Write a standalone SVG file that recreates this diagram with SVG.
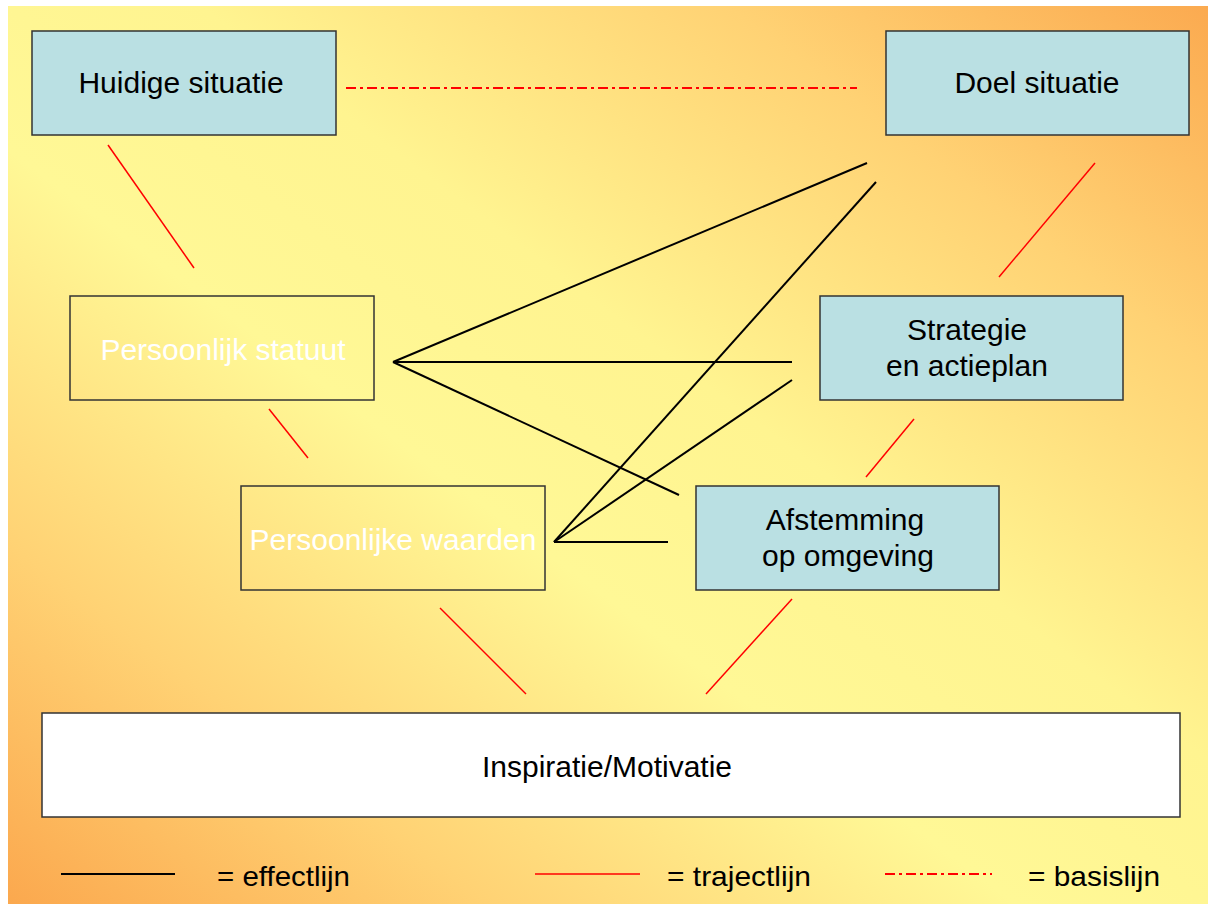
<svg xmlns="http://www.w3.org/2000/svg" width="1208" height="904" viewBox="0 0 1208 904">
  <defs>
    <linearGradient id="bg" x1="1" y1="0" x2="0" y2="1">
      <stop offset="0" stop-color="#FBAA50"/>
      <stop offset="0.2" stop-color="#FFD274"/>
      <stop offset="0.42" stop-color="#FFF490"/>
      <stop offset="0.58" stop-color="#FFF896"/>
      <stop offset="0.8" stop-color="#FFD274"/>
      <stop offset="1" stop-color="#FBA84E"/>
    </linearGradient>
    <style>
      .box { stroke: #333; stroke-width: 1.5; }
      .blue { fill: #BAE0E3; }
      .clear { fill: none; }
      .white { fill: #FFFFFF; }
      .lbl { font-family: "Liberation Sans", Arial, sans-serif; font-size: 30px; fill: #000; text-anchor: middle; }
      .lbl-w { fill: #FFFFFF; }
      .effect { stroke: #000; stroke-width: 2; fill: none; }
      .traject { stroke: #FF0000; stroke-width: 1.5; fill: none; }
      .basis { stroke: #FF0000; stroke-width: 2; fill: none; stroke-dasharray: 10 4 3 4; }
      .legend { font-family: "Liberation Sans", Arial, sans-serif; font-size: 28px; fill: #000; }
    </style>
  </defs>

  <rect x="0" y="0" width="1208" height="904" fill="#FFFFFF"/>
  <rect x="8" y="6" width="1200" height="898" fill="url(#bg)"/>

  <g id="connectors">
    <!-- basislijn -->
    <line class="basis" x1="346" y1="88" x2="857" y2="88"/>
    <!-- trajectlijnen -->
    <line class="traject" x1="108" y1="145" x2="194" y2="268"/>
    <line class="traject" x1="1095" y1="163" x2="999" y2="277"/>
    <line class="traject" x1="269" y1="409" x2="308" y2="458"/>
    <line class="traject" x1="914" y1="419" x2="866" y2="477"/>
    <line class="traject" x1="440" y1="608" x2="526" y2="694"/>
    <line class="traject" x1="792" y1="599" x2="706" y2="694"/>
    <!-- effectlijnen -->
    <line class="effect" x1="393" y1="362" x2="867" y2="163"/>
    <line class="effect" x1="393" y1="362" x2="792" y2="362"/>
    <line class="effect" x1="393" y1="362" x2="679" y2="495"/>
    <line class="effect" x1="554" y1="542" x2="876" y2="182"/>
    <line class="effect" x1="554" y1="542" x2="792" y2="380"/>
    <line class="effect" x1="554" y1="542" x2="668" y2="542"/>
  </g>

  <g id="huidige-situatie">
    <rect class="box blue" x="32" y="31" width="304" height="104"/>
    <text class="lbl" x="181" y="93">Huidige situatie</text>
  </g>
  <g id="doel-situatie">
    <rect class="box blue" x="886" y="31" width="303" height="104"/>
    <text class="lbl" x="1037" y="93">Doel situatie</text>
  </g>
  <g id="persoonlijk-statuut">
    <rect class="box clear" x="70" y="296" width="304" height="104"/>
    <text class="lbl lbl-w" x="223" y="360">Persoonlijk statuut</text>
  </g>
  <g id="strategie">
    <rect class="box blue" x="820" y="296" width="303" height="104"/>
    <text class="lbl" x="967" y="340">Strategie</text>
    <text class="lbl" x="967" y="376">en actieplan</text>
  </g>
  <g id="persoonlijke-waarden">
    <rect class="box clear" x="241" y="486" width="304" height="104"/>
    <text class="lbl lbl-w" x="393" y="550">Persoonlijke waarden</text>
  </g>
  <g id="afstemming">
    <rect class="box blue" x="696" y="486" width="303" height="104"/>
    <text class="lbl" x="845" y="530">Afstemming</text>
    <text class="lbl" x="848" y="566">op omgeving</text>
  </g>
  <g id="inspiratie">
    <rect class="box white" x="42" y="713" width="1138" height="104"/>
    <text class="lbl" x="607" y="777">Inspiratie/Motivatie</text>
  </g>

  <g id="legend">
    <line class="effect" x1="61" y1="874" x2="175" y2="874"/>
    <text class="legend" x="217" y="886" textLength="133" lengthAdjust="spacingAndGlyphs">= effectlijn</text>
    <line class="traject" x1="535" y1="874" x2="640" y2="874" stroke-width="2"/>
    <text class="legend" x="667" y="886" textLength="144" lengthAdjust="spacingAndGlyphs">= trajectlijn</text>
    <line class="basis" x1="885" y1="874" x2="992" y2="874" stroke-width="1.5" stroke-dasharray="6 3 2 3"/>
    <text class="legend" x="1028" y="886" textLength="132" lengthAdjust="spacingAndGlyphs">= basislijn</text>
  </g>
</svg>
